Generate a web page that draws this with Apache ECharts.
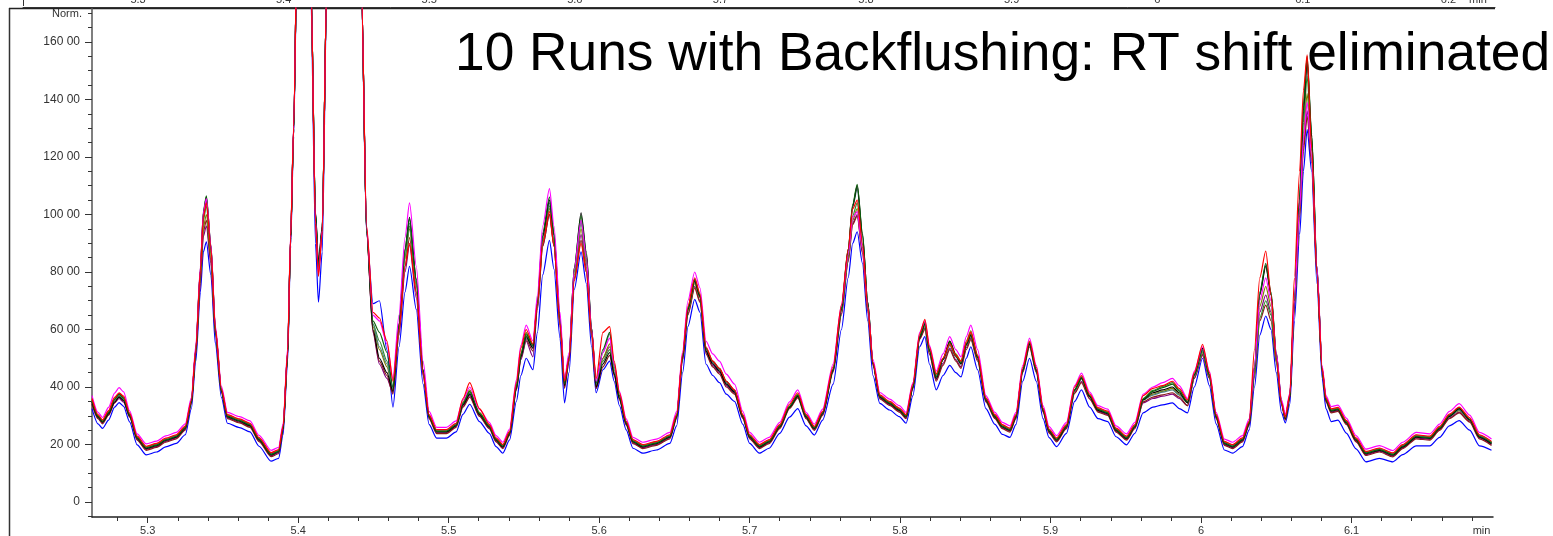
<!DOCTYPE html>
<html>
<head>
<meta charset="utf-8">
<script src="https://cdn.jsdelivr.net/npm/echarts@6/dist/echarts.min.js"></script>
<style>
html,body{margin:0;padding:0;background:#fff;}
#c{width:1553px;height:536px;}
</style>
</head>
<body>
<div id="c"></div>
<script>
// Retention time (min)
const minutes = [
5.263,5.267,5.270,5.274,5.278,5.281,5.284,5.288,5.293,5.299,5.306,5.312,5.319,5.325,
5.329,5.332,5.335,5.337,5.339,5.342,5.345,5.349,5.353,5.361,5.368,5.374,5.382,5.387,
5.390,5.393,5.395,5.397,5.400,5.404,5.4085,5.4115,5.4135,5.416,5.419,5.425,5.435,5.442,5.4455,5.4497,5.454,5.459,5.463,
5.467,5.471,5.474,5.4785,5.483,5.487,5.492,5.4985,5.505,5.5095,5.514,5.5205,5.527,5.5315,5.536,
5.5405,5.545,5.548,5.5515,5.556,5.559,5.5625,5.567,5.570,5.574,5.577,5.580,5.5835,5.588,5.5915,5.595,5.598,5.6025,5.607,5.610,5.6135,5.618,5.6225,5.629,5.638,5.647,
5.6515,5.6555,5.659,5.6635,5.667,5.671,5.6755,5.680,5.6845,5.690,5.6955,5.700,5.7065,5.713,5.720,5.7265,5.732,5.7375,5.743,5.7485,
5.7555,5.761,5.7655,5.7685,5.7715,5.775,5.7785,5.782,5.7865,5.793,5.7995,5.804,5.8085,5.813,
5.8165,5.8195,5.824,5.8285,5.833,5.837,5.8405,5.844,5.847,5.8515,5.857,5.863,5.868,5.873,5.877,5.8815,5.886,5.8905,5.895,5.899,5.904,5.9105,
5.916,5.9205,5.926,5.9315,5.938,5.9435,5.9505,5.956,5.9615,5.968,5.9745,5.981,5.9855,5.991,5.9955,6.001,6.0055,6.010,6.0155,6.021,6.0275,6.032,
6.0355,6.039,6.043,6.0465,6.050,6.0535,6.056,6.059,6.062,6.0655,6.068,6.0705,6.0735,6.077,6.0805,6.083,
6.0865,6.091,6.0965,6.103,6.1095,6.1185,6.1275,6.134,6.143,6.152,6.1585,6.165,6.1715,6.1785,6.185,6.193
];

const runRed = [
3600,3040,2860,3180,3640,3800,3680,3090,2290,1940,2040,2220,2340,2640,
3540,5340,8040,9900,10400,8840,6040,3940,3040,2890,2740,2240,1720,1820,
2640,5250,9250,13050,22000,30000,18000,9700,7850,9400,18000,40000,40000,18000,9600,6600,6400,5600,4200,
6000,8200,9000,7300,4500,3040,2520,2520,2740,3600,4150,3250,2700,2230,2000,
2460,4150,5350,6000,5500,6900,9000,10100,8900,6200,4200,5000,7700,9000,8000,5900,4300,5900,6100,4900,3800,2810,2170,2000,2110,2340,
3050,5150,6800,7800,7250,5400,4900,4650,4200,3900,3040,2340,2000,2170,2690,3400,3800,3050,2630,3150,
4700,6850,8800,10200,10500,9000,6800,4850,3730,3500,3270,3040,4100,5850,
6350,5400,4450,5000,5500,5100,4900,5550,5900,5100,3620,3040,2690,2570,3040,4680,5600,4680,3270,2540,2230,2690,
4000,4400,3750,3280,3160,2570,2290,2690,3700,3950,4050,4200,3950,3550,4500,5480,4500,3050,2110,2000,2230,2810,
5300,7800,8730,7200,5000,3450,2950,3750,7800,11500,14300,15550,12300,7900,4660,3620,
3240,3290,2840,2230,1760,1880,1710,2000,2340,2290,2630,3060,3300,2930,2340,2110
];
const runMagenta = [
3700,3120,2940,3290,3790,3980,3830,3170,2370,2020,2120,2300,2420,2720,
3620,5450,8150,10050,10550,8950,6120,4020,3120,2970,2820,2320,1800,1900,
2720,5350,9300,13100,22000,30000,18000,9800,7900,9450,18000,40000,40000,18000,9550,6500,6300,5500,4300,
6500,9200,10400,8200,4900,3150,2600,2600,2820,3550,4000,3220,2770,2310,2080,
2540,4250,5450,6150,5600,7200,9600,10900,9600,6600,4250,5200,8100,9800,8500,6000,4200,5200,5700,4800,3850,2890,2250,2080,2190,2420,
3150,5250,7000,8000,7450,5600,5150,4900,4450,4100,3150,2420,2080,2250,2770,3480,3900,3120,2710,3230,
4800,6850,8600,9900,10100,8800,6800,4950,3810,3580,3350,3120,4150,5900,
6300,5450,4550,5150,5750,5300,5050,5750,6150,5300,3700,3120,2770,2650,3120,4750,5700,4750,3350,2620,2310,2770,
4050,4480,3820,3350,3230,2650,2370,2770,3750,4000,4150,4300,4050,3600,4550,5400,4550,3120,2190,2080,2310,2890,
4700,7000,7800,7000,5200,3550,3050,3800,7000,10200,12600,13900,12000,8200,4740,3700,
3320,3370,2920,2310,1840,1960,1790,2080,2420,2370,2710,3150,3420,3020,2420,2190
];
const runBlue = [
3250,2720,2560,2850,3300,3460,3330,2790,1990,1640,1740,1920,2040,2340,
3240,4900,7300,8700,9050,7900,5500,3640,2740,2590,2440,1940,1420,1520,
2340,4900,8900,12700,21800,30000,17500,9000,6950,8700,17800,40000,40000,17800,9300,6900,7000,5300,3300,
5400,7300,8200,6700,4100,2700,2220,2220,2440,3050,3400,2800,2390,1930,1700,
2160,3500,4400,5000,4600,5900,7900,9100,8100,5700,3450,4500,7400,8700,7600,5400,3800,4600,4900,4200,3350,2510,1870,1700,1810,2040,
2650,4500,6100,7050,6600,4800,4400,4150,3750,3500,2700,2040,1700,1870,2390,2950,3250,2650,2330,2850,
4100,6000,7800,9000,9400,8300,6300,4400,3430,3200,2970,2740,3700,5400,
5750,4800,3900,4400,4750,4500,4350,5000,5400,4600,3250,2700,2350,2250,2700,4200,5000,4200,2900,2240,1930,2390,
3500,3900,3300,2900,2800,2270,1990,2390,3100,3300,3380,3450,3250,3100,4000,5000,4050,2720,1810,1700,1930,2510,
4000,5800,6470,6000,4500,3100,2750,3400,6300,9300,11500,12950,11500,7600,4300,3250,
2800,2850,2400,1850,1400,1520,1400,1650,1950,1950,2250,2650,2830,2500,1950,1800
];
const runDarkGreen = [
3530,2980,2800,3110,3570,3750,3610,3030,2230,1880,1980,2160,2280,2580,
3480,5300,8100,10100,10650,8950,6000,3880,2980,2830,2680,2180,1660,1760,
2580,5200,9200,13000,22000,30000,18000,10000,8150,9500,18000,40000,40000,18000,9500,6300,5900,5200,4000,
6200,8750,9850,7750,4600,2980,2460,2460,2680,3430,3850,3080,2630,2170,1940,
2400,4000,5150,5850,5450,7000,9350,10600,9350,6400,4100,5100,8150,9950,8600,6050,4150,5300,5900,4800,3700,2750,2110,1940,2050,2280,
2980,5100,6750,7750,7200,5350,4900,4650,4200,3880,2980,2280,1940,2110,2630,3320,3720,2980,2570,3090,
4600,6750,8800,10350,11050,9350,6950,4830,3670,3440,3210,2980,4000,5750,
6250,5300,4350,4950,5550,5080,4850,5500,5850,5050,3560,2980,2630,2510,2980,4600,5550,4600,3210,2480,2170,2630,
3900,4350,3700,3220,3100,2510,2230,2630,3580,3850,3980,4100,3860,3500,4450,5300,4420,2980,2050,1940,2170,2750,
4700,7300,8300,7300,5200,3480,2920,3680,7000,10600,13800,15500,12800,8200,4600,3560,
3180,3230,2780,2170,1700,1820,1650,1940,2280,2230,2570,3020,3280,2880,2280,2050
];
const runGreen = [
3500,2990,2810,3100,3540,3700,3570,3040,2250,1900,2000,2180,2300,2600,
3500,5280,7950,9800,10300,8750,5980,3900,3000,2850,2700,2200,1680,1780,
2600,5180,9180,12950,22000,30000,18000,10050,8200,9550,18000,40000,40000,18000,9450,6200,5600,4900,3950,
6100,8550,9600,7600,4550,3000,2480,2480,2700,3400,3800,3060,2650,2190,1960,
2420,4000,5100,5800,5400,6900,9100,10300,9100,6300,4150,5050,8000,9700,8450,5950,4100,4900,5300,4500,3650,2770,2130,1960,2070,2300,
3000,5050,6650,7650,7150,5300,4850,4600,4150,3860,3000,2300,1960,2130,2650,3300,3700,3000,2590,3110,
4600,6650,8550,9950,10400,8950,6800,4820,3690,3460,3230,3000,4020,5750,
6150,5250,4400,4950,5450,5050,4800,5450,5750,5000,3580,3000,2650,2530,3000,4600,5500,4600,3230,2500,2190,2650,
3880,4300,3680,3230,3110,2530,2250,2650,3600,3880,4020,4150,3900,3450,4400,5250,4400,3000,2070,1960,2190,2770,
4400,6400,7000,6500,4900,3450,2940,3690,6900,10300,13200,14800,12400,8100,4620,3580,
3200,3250,2800,2190,1720,1840,1670,1960,2300,2250,2590,2990,3220,2870,2300,2070
];
const runOlive = [
3560,3010,2830,3150,3600,3780,3640,3070,2270,1920,2020,2200,2320,2620,
3520,5250,7850,9550,10000,8600,5950,3920,3020,2870,2720,2220,1700,1800,
2620,5200,9200,13000,22000,30000,18000,10000,8100,9500,18000,40000,40000,18000,9400,6100,5300,4700,3900,
6050,8450,9500,7500,4550,3020,2500,2500,2720,3480,3900,3120,2670,2210,1980,
2440,4050,5150,5900,5450,6850,9000,10200,9000,6250,4100,5000,7900,9500,8300,5900,4050,5000,5500,4600,3700,2790,2150,1980,2090,2320,
3020,5050,6650,7600,7100,5300,4850,4620,4180,3880,3020,2320,1980,2150,2670,3340,3750,3020,2610,3130,
4620,6650,8500,9800,10200,8850,6750,4840,3710,3480,3250,3020,4050,5780,
6100,5250,4450,5000,5600,5150,4900,5600,5950,5100,3600,3020,2670,2550,3020,4600,5500,4600,3250,2520,2210,2670,
3880,4280,3680,3250,3130,2550,2270,2670,3550,3750,3850,3950,3750,3450,4380,5200,4380,3020,2090,1980,2210,2790,
4500,6800,7500,6800,5000,3450,2960,3700,6900,10100,12800,14200,12200,8100,4640,3600,
3220,3270,2820,2210,1740,1860,1690,1980,2320,2270,2610,2990,3180,2860,2320,2090
];
const runBlack = [
3480,2960,2780,3070,3480,3650,3520,3000,2210,1860,1960,2140,2260,2560,
3460,5280,8050,10050,10600,8900,5980,3860,2960,2810,2660,2160,1640,1740,
2560,5150,9150,12950,22000,30000,18000,10100,8300,9600,18000,40000,40000,18000,9400,6000,5000,4500,3850,
6200,8800,9900,7750,4600,2960,2440,2440,2660,3380,3750,3040,2610,2150,1920,
2380,3950,5050,5750,5350,6950,9250,10500,9300,6350,4050,5050,8150,10060,8700,6050,4000,4800,5200,4450,3600,2730,2090,1920,2030,2260,
2960,5050,6700,7700,7150,5250,4800,4550,4100,3820,2960,2260,1920,2090,2610,3300,3680,2960,2550,3070,
4580,6700,8750,10300,11000,9300,6950,4810,3650,3420,3190,2960,3990,5720,
6200,5280,4300,4950,5600,5100,4800,5480,5800,5030,3540,2960,2610,2490,2960,4580,5500,4580,3190,2460,2150,2610,
3900,4320,3660,3190,3070,2490,2210,2610,3560,3800,3900,4000,3800,3450,4420,5350,4430,2960,2030,1920,2150,2730,
4650,7200,8200,7200,5150,3460,2900,3660,6950,10500,13600,15300,12700,8150,4580,3540,
3160,3210,2760,2150,1680,1800,1630,1920,2260,2210,2550,2980,3250,2860,2260,2030
];
const runPurple = [
3420,2930,2750,3040,3450,3600,3470,2980,2180,1830,1930,2110,2230,2530,
3430,5150,7600,9250,9600,8300,5800,3830,2930,2780,2630,2130,1610,1710,
2530,5100,9100,12900,22000,30000,18000,9900,8000,9450,18000,40000,40000,18000,9350,5900,4800,4300,3800,
5800,8000,8950,7100,4400,2930,2410,2410,2630,3330,3700,3000,2580,2120,1890,
2350,3900,4950,5600,5050,6700,8900,10000,8900,6150,4000,4900,7800,9300,8150,5800,3950,5000,5400,4500,3600,2700,2060,1890,2000,2230,
2930,4950,6550,7500,7000,5200,4750,4500,4050,3780,2930,2230,1890,2060,2580,3270,3650,2930,2520,3040,
4550,6550,8400,9700,10000,8700,6650,4780,3620,3390,3160,2930,3960,5680,
6050,5150,4250,4820,5350,4950,4700,5380,5700,4950,3510,2930,2580,2460,2930,4550,5450,4550,3160,2430,2120,2580,
3800,4200,3600,3160,3040,2460,2180,2580,3450,3600,3680,3750,3600,3350,4300,5100,4320,2930,2000,1890,2120,2700,
4450,6600,7200,6600,4950,3420,2880,3640,6850,10000,12400,13600,11900,8000,4550,3510,
3130,3180,2730,2120,1650,1770,1600,1890,2230,2180,2520,2930,3130,2810,2230,2000
];
const runTeal = [
3520,2990,2810,3110,3560,3720,3590,3040,2240,1890,1990,2170,2290,2590,
3490,5300,8050,10000,10500,8900,6000,3890,2990,2840,2690,2190,1670,1770,
2590,5200,9200,13000,22000,30000,18000,10050,8250,9550,18000,40000,40000,18000,9450,6200,5400,4800,3950,
6150,8650,9700,7650,4580,2990,2470,2470,2690,3400,3800,3060,2640,2180,1950,
2410,3980,5050,5700,5400,6900,9200,10400,9200,6300,4100,5050,8050,9800,8500,6000,4100,5200,5850,4700,3680,2760,2120,1950,2060,2290,
2990,5080,6700,7700,7150,5300,4850,4600,4150,3850,2990,2290,1950,2120,2640,3320,3720,2990,2580,3100,
4610,6720,8750,10250,10900,9250,6920,4840,3680,3450,3220,2990,4020,5760,
6200,5280,4380,4950,5500,5080,4850,5480,5800,5030,3570,2990,2640,2520,2990,4600,5500,4600,3220,2490,2180,2640,
3870,4300,3680,3220,3100,2520,2240,2640,3550,3720,3820,3900,3720,3450,4380,5250,4400,2990,2060,1950,2180,2760,
4700,7250,8250,7250,5150,3460,2930,3690,6950,10500,13700,15400,12700,8150,4610,3570,
3190,3240,2790,2180,1710,1830,1660,1950,2290,2240,2580,2980,3200,2860,2290,2060
];
const runDarkRed = [
3400,2900,2720,3020,3450,3680,3540,2950,2150,1800,1900,2080,2200,2500,
3400,5150,7700,9400,9800,8400,5850,3800,2900,2750,2600,2100,1580,1680,
2500,5100,9100,12900,22000,30000,18000,9950,8050,9500,18000,40000,40000,18000,9400,5950,4900,4400,3750,
5900,8200,9200,7300,4450,2900,2380,2380,2600,3300,3650,2980,2550,2090,1860,
2320,3900,5000,5650,5250,6750,8900,10000,8900,6150,3950,4900,7750,9100,8000,5750,3950,4700,5100,4400,3550,2670,2030,1860,1970,2200,
2900,4950,6500,7450,6950,5150,4700,4450,4000,3750,2900,2200,1860,2030,2550,3250,3620,2900,2490,3010,
4520,6500,8350,9650,9950,8650,6600,4750,3590,3360,3130,2900,3940,5660,
6000,5150,4200,4750,5300,4900,4650,5300,5650,4900,3480,2900,2550,2430,2900,4500,5400,4500,3130,2400,2090,2550,
3780,4150,3580,3130,3010,2430,2150,2550,3480,3650,3730,3800,3650,3350,4300,5150,4300,2900,1970,1860,2090,2670,
4350,6300,6850,6300,4850,3380,2850,3620,6800,9900,12200,13400,11800,7950,4520,3480,
3100,3150,2700,2090,1620,1740,1570,1860,2200,2150,2490,2900,3100,2780,2200,1970
];

// Axis tick labels
const xLabelValues = [5.3, 5.4, 5.5, 5.6, 5.7, 5.8, 5.9, 6.0, 6.1];
const xUnitLabel = 'min';
const yLabelValues = [0, 2000, 4000, 6000, 8000, 10000, 12000, 14000, 16000];
const topLabelValues = [5.3, 5.4, 5.5, 5.6, 5.7, 5.8, 5.9, 6.0, 6.1, 6.2];
const titleText = '10 Runs with Backflushing: RT shift eliminated';
const yUnitText = 'Norm.';

const runs = [
  {name: 'Run 1', data: runBlue, color: '#0000ff'},
  {name: 'Run 2', data: runPurple, color: '#800080'},
  {name: 'Run 3', data: runDarkRed, color: '#8b1a1a'},
  {name: 'Run 4', data: runOlive, color: '#808000'},
  {name: 'Run 5', data: runGreen, color: '#2e8b2e'},
  {name: 'Run 6', data: runTeal, color: '#4a8080'},
  {name: 'Run 7', data: runBlack, color: '#000000'},
  {name: 'Run 8', data: runDarkGreen, color: '#0b5e0b'},
  {name: 'Run 9', data: runMagenta, color: '#ff00ff'},
  {name: 'Run 10', data: runRed, color: '#ff0000'}
];
runs.forEach(r => { if (r.data.length !== minutes.length) throw new Error(r.name + ' length ' + r.data.length + ' vs ' + minutes.length); });

const X_MIN = 5.263, X_MAX = 6.194, Y_MIN = -520, Y_MAX = 17180;
const xMinorTicks = []; for (let v = 5.28; v < X_MAX; v = Math.round((v + 0.02) * 100) / 100) xMinorTicks.push(v);
const yMinorTicks = []; for (let v = -500; v <= 17000; v += 500) yMinorTicks.push(v);
const fmtX = v => (Math.abs(v - 6) < 1e-9 ? '6' : (Math.round(v * 10) / 10).toFixed(1));
const fmtY = v => { if (v === 0) return '0'; const s = String(v); return s.slice(0, -2) + ' ' + s.slice(-2); };
const xUnitPos = 6.1864;
const topMin = 5.221, topMax = 6.232, topUnitPos = 6.2203;

const labelFont = {color: '#333', fontSize: 11, fontFamily: 'Liberation Sans, Arial, sans-serif'};

const chart = echarts.init(document.getElementById('c'), null, {renderer: 'canvas'});
chart.setOption({
  animation: false,
  backgroundColor: '#fff',
  grid: [
    {left: 92, right: 60, top: 8, bottom: 18, containLabel: false},
    {left: 23, right: 58, top: 6, height: 1, containLabel: false}
  ],
  xAxis: [
    {
      gridIndex: 0, type: 'value', min: X_MIN, max: X_MAX, position: 'bottom',
      axisLine: {show: true, onZero: false, lineStyle: {color: '#222', width: 1.5}},
      axisTick: {show: true, length: 6, customValues: xLabelValues, lineStyle: {color: '#333'}},
      axisLabel: {show: true, margin: 8, customValues: xLabelValues.concat([xUnitPos]),
        formatter: v => (v > 6.15 ? xUnitLabel : fmtX(v)), ...labelFont},
      splitLine: {show: false}
    },
    {
      gridIndex: 0, type: 'value', min: X_MIN, max: X_MAX, position: 'bottom',
      axisLine: {show: false, onZero: false},
      axisTick: {show: true, length: 4, customValues: xMinorTicks, lineStyle: {color: '#333'}},
      axisLabel: {show: false}, splitLine: {show: false}
    },
    {
      gridIndex: 1, type: 'value', min: topMin, max: topMax, position: 'top',
      axisLine: {show: true, onZero: false, lineStyle: {color: '#333', width: 1}},
      axisTick: {show: false},
      axisLabel: {show: true, margin: 2, customValues: topLabelValues.concat([topUnitPos]),
        formatter: v => (v > 6.21 ? xUnitLabel : fmtX(v)), ...labelFont},
      splitLine: {show: false}
    }
  ],
  yAxis: [
    {
      gridIndex: 0, type: 'value', min: Y_MIN, max: Y_MAX, position: 'left',
      axisLine: {show: true, onZero: false, lineStyle: {color: '#555', width: 1.5}},
      axisTick: {show: true, length: 7, customValues: yLabelValues, lineStyle: {color: '#333'}},
      axisLabel: {show: true, margin: 12, customValues: yLabelValues, formatter: fmtY,
        color: '#333', fontSize: 12, fontFamily: 'Liberation Sans, Arial, sans-serif'},
      splitLine: {show: false}
    },
    {
      gridIndex: 0, type: 'value', min: Y_MIN, max: Y_MAX, position: 'left', offset: 0,
      axisLine: {show: false, onZero: false},
      axisTick: {show: true, length: 4, customValues: yMinorTicks, lineStyle: {color: '#333'}},
      axisLabel: {show: false}, splitLine: {show: false}
    },
    {gridIndex: 1, type: 'value', show: false, min: 0, max: 1}
  ],
  series: runs.map(r => ({
    name: r.name, type: 'line', xAxisIndex: 0, yAxisIndex: 0,
    data: minutes.map((t, i) => [t, r.data[i]]),
    showSymbol: false, symbol: 'none', smooth: 0.25, smoothMonotone: 'x', clip: true,
    lineStyle: {color: r.color, width: 1.2}, itemStyle: {color: r.color},
    emphasis: {disabled: true}, silent: true
  })),
  graphic: [
    {type: 'line', shape: {x1: 9.5, y1: 8, x2: 9.5, y2: 536}, style: {stroke: '#333', lineWidth: 1.5}, silent: true},
    {type: 'line', shape: {x1: 9, y1: 8.5, x2: 1495, y2: 8.5}, style: {stroke: '#222', lineWidth: 1.5}, silent: true},
    {type: 'line', shape: {x1: 23.5, y1: 0, x2: 23.5, y2: 6}, style: {stroke: '#333', lineWidth: 1}, silent: true},
    {type: 'text', x: 82, y: 14, style: {text: yUnitText, align: 'right', verticalAlign: 'middle',
      fill: '#333', font: '11px "Liberation Sans", Arial, sans-serif'}, silent: true},
    {type: 'text', x: 455, y: 55, z: 100, style: {text: titleText, align: 'left', verticalAlign: 'middle',
      fill: '#000', font: '53.3px "Liberation Sans", Arial, sans-serif'}, silent: true}
  ]
});
</script>
</body>
</html>
